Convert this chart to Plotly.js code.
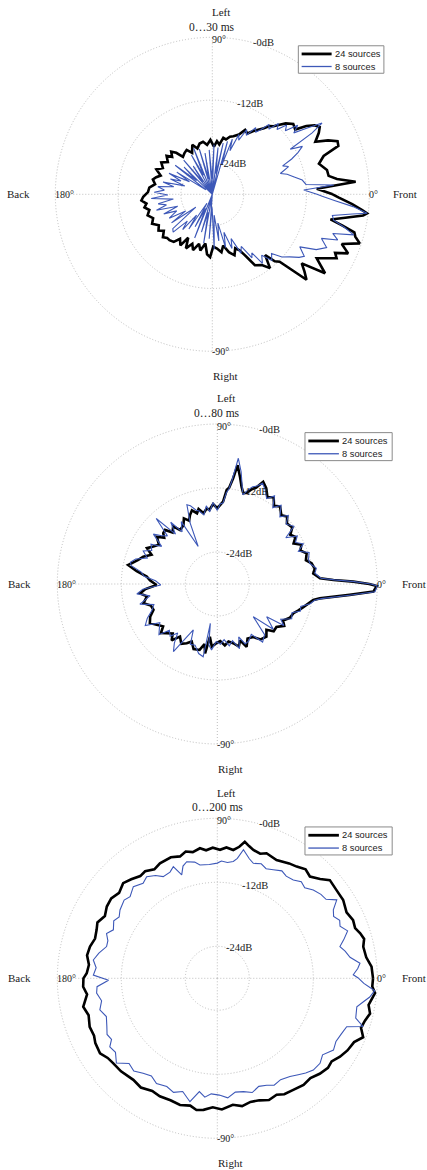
<!DOCTYPE html>
<html>
<head>
<meta charset="utf-8">
<script src="https://cdn.plot.ly/plotly-3.0.1.min.js"></script>
<style>
  html, body { margin: 0; padding: 0; background: #fff; }
  #plot { width: 427px; height: 1170px; }
</style>
</head>
<body>
<div id="plot"></div>
<script>
// Directional energy (dB re. maximum) for three time windows,
// comparing a 24-source and an 8-source reproduction setup.
// Angles in degrees: 0 = front, 90 = left, 180 = back, 270 = right.

const windowTitles = ['0…30 ms', '0…80 ms', '0…200 ms'];
const seriesNames = ['24 sources', '8 sources'];
const radialTicks = [-24, -12, 0];
const radialTickText = ['-24dB', '-12dB', '-0dB'];
const angleTicks = [0, 90, 180, 270];
const angleTickText = ['0°', '90°', '180°', '-90°'];
const directionText = ['Front', 'Left', 'Back', 'Right'];

// ---- 0...30 ms ----
const theta30_24 = [0,3,5,7,9,12,16,19,21,23,25,27,30,32,34,36,38,41,44,46,48,50,52,55,57,60,63,66,70,73,76,79,82,85,88,92,96,100,104,108,112,116,120,124,128,131,134,137,140,144,148,152,156,160,163,166,170,174,178,182,185,188,191,194,198,202,206,210,214,217,221,224,227,231,234,238,241,244,248,251,255,258,262,265,268,271,275,279,282,286,290,293,296,298,301,305,308,311,313,315,317.8,320,322.3,325,328.5,331,332.8,334.5,336.5,339,341.6,343.5,345,346.5,348,350,352,353,354,356,358.5,360];
const r30_24 = [-7,-10,-2.5,-6,-7.5,-7.6,-8.8,-7.5,-4.2,-4,-5.6,-7.9,-6.5,-5.8,-6.4,-7.8,-9.9,-9.5,-10.5,-11.5,-12.5,-13,-14,-15,-15.6,-16.6,-16.2,-17.5,-18.2,-18.5,-19.2,-19,-20.4,-19.8,-20.9,-19.6,-20.5,-19.8,-20,-20.8,-19.8,-21.2,-20.2,-20.5,-20.9,-19.5,-18.7,-19.5,-18.6,-19.5,-18.5,-19.3,-18.3,-19.5,-18.8,-18.3,-18.9,-17.9,-17.7,-16.8,-16.4,-17.3,-16.8,-17.6,-17,-17.8,-17.2,-18.2,-17.6,-18.4,-17.5,-18,-18,-18.3,-19.5,-18.5,-20.5,-18.5,-19.8,-18.7,-20.2,-19,-20.5,-18.5,-18,-20,-19.6,-18.8,-20,-18.5,-17.6,-18.8,-18.1,-16.9,-14.2,-13.5,-12.1,-14.6,-12.5,-11.8,-5.7,-7,-8.4,-3.7,-6.6,-4.8,-3.3,-4,-1.7,-3.5,-0.3,-1.5,-1.9,-4.4,-6.9,-4.2,-0.9,-0.2,-1.2,-3.2,-5.8,-7];

const theta30_8 = [0,2.7,4.4,6,9,12,15,17,20,22,24,26,28,30,31.6,33,35,37,39,41,43,45,47,49,51,53,55,57,60,62,64,66,68,70,72,74,76,78,80,83,86,88,91,94,97,100,103,106,109,112,115,118,121,124,127,130,133,136,139,142,145,148,151,154,157,160,163,166,169,172,175,178,181,184,187,190,193,196,199,202,205,209,212,215,218,221,224,227,230,233,236,239,242,245,248,251,254,257,260,263,266,269,272,275,278,281,284,287,290,293,296,299,302,304,306,309,312,315,318,321,324,326,329,332,335,338,340,342,344,346,348,350,352,353,355,357,359,360];
const r30_8 = [-10,-12.5,-6.7,-12,-12.6,-14,-15.2,-16.4,-14.5,-15.5,-13.4,-11.8,-10.5,-12.8,-7.6,-5,-8,-10.5,-9,-11.5,-10.6,-12.5,-11.5,-13.5,-12.8,-14.5,-15.5,-14.8,-17,-16,-18.5,-17.5,-21,-18.8,-24,-19.5,-30,-20,-26,-21,-30,-20.5,-27,-21.5,-30,-22,-27,-21,-30,-20.5,-26,-21.5,-30,-23.5,-27,-21.5,-30,-22.5,-26,-21,-28.5,-22,-25,-20.8,-23.5,-21.5,-24.5,-20.3,-22.5,-19.5,-20.8,-18.9,-21.5,-18.3,-22.5,-19.5,-21,-18.9,-23,-20,-22.5,-20.6,-24,-20.5,-26,-20,-19.6,-23,-21.2,-25,-22,-28,-23,-27,-21,-30,-22.5,-26.5,-20.5,-30,-21.5,-27.5,-19.5,-26,-21,-24.4,-19.5,-22.4,-19,-20.8,-17.5,-18.6,-15.7,-16.5,-13.7,-15,-13,-14,-12.1,-11,-9.5,-8.8,-10.5,-7.5,-5.9,-7.5,-4.5,-5.8,-1.9,-4,-6.3,-6.7,-3,-0.2,-3,-6.5,-9,-10];

// ---- 0...80 ms ----
const theta80_24 = [0,1,2,3.2,6.3,9,12.4,15,18.9,22,25,28,31,34,37,41,44,47,51,54,57,60,63,65.8,68,70,72,74,76,78,80.3,81.5,83,84.3,86,88,90,93,96,98,101,104,106,109,111.6,114,117,120,124.6,127.5,131,134,136.8,139,142,146,149.7,153,156,159.7,163,166,168,171,174,177,181,184,187,190,194.6,198,202,206,210,214,218,221,224,228,231,234.7,239,242.7,246,250,255,258,260,262,265,269,273,277,281,285,289,292,295,299,304,308,313,317,320,324,328,331,335,339,342,345,348,350.5,352,355.3,357.2,359.3,360];
const r80_24 = [-1.5,-4.5,-8.2,-10.7,-11.9,-11.5,-11.9,-12.8,-12.3,-13.2,-12.6,-13.8,-12.9,-13.5,-12.4,-12.7,-11.8,-12.4,-11.3,-11.9,-10.6,-11.2,-9.8,-9,-10.5,-11.1,-12,-12.3,-11.2,-9.5,-7.4,-10,-11.8,-12.3,-14.5,-15.2,-15.8,-15,-16,-15.7,-16.5,-15.5,-16.2,-15.4,-16.1,-17,-16.2,-17.3,-17.7,-16.4,-17.2,-15.9,-16.1,-16.8,-15.6,-16.8,-16.1,-15.2,-16.5,-15.2,-14.5,-13.6,-12.9,-14.7,-16.7,-17.4,-18.6,-16.5,-15.4,-16.6,-15.7,-16.9,-17.1,-16,-15.4,-16.3,-17.1,-16,-16.7,-17.5,-16.4,-17.9,-16.9,-17.5,-18.2,-17,-17.2,-18.5,-16.8,-20,-18.2,-18.9,-19.3,-18.4,-19,-18.5,-17.6,-18.6,-17,-18.3,-18,-16.8,-16.5,-17.4,-16.2,-16.3,-15.2,-15.9,-15,-14.7,-14,-13.3,-12.5,-11.75,-10.6,-5.1,-0.7,-0.1,-1.5];

const theta80_8 = [0,1,2,3.2,6.3,9,12.4,15,18.9,22,25,28,31,34,37,41,44,47,51,54,57,60,63,65.8,68,70,72,74,76,78,80.5,82,83,84.3,86,88,90,93,96,98,101,104,106,109,111,114,117,120,124,127,130,133,136,139,142,146,149,153,156,159.7,163,166,168,171,174,177,181,184,187,190,194.6,198,202,206,210,214,218,221,224,228,231,234,237,240,242.4,246,250,255,259,260,262,265,269,273,277,281,285,289,292,295,299,304,308,313,317.8,321,326.5,328,331,335,339,342,345,348,350.5,352,355.3,357.2,359.3,360];
const r80_8 = [-1.2,-4.3,-8,-10.5,-11.6,-11.2,-12.2,-12.3,-11.8,-13.6,-12.2,-13.4,-12.5,-14.5,-12,-12.9,-11.5,-12.8,-11,-12.3,-10.3,-11.5,-10.2,-9.3,-10.2,-10.6,-11.5,-12.6,-10.8,-8.5,-6.1,-10.5,-12,-12.8,-14.8,-15,-16.2,-14.7,-16.4,-15.2,-16.8,-15.9,-15.6,-14.5,-14.1,-17.5,-22.1,-16.5,-18.2,-15.5,-17.8,-13.2,-17,-16.2,-14.8,-17.4,-15.5,-16.2,-14.8,-16,-14,-13.2,-13.5,-15.5,-16.2,-18.4,-19.4,-16,-14.8,-17.2,-15,-17.5,-16.8,-15.4,-14.4,-17,-16.2,-15.5,-17.5,-16.8,-18.2,-16.3,-14.9,-18.5,-20.3,-17.6,-17.8,-16.5,-16.1,-22.5,-18.5,-17.6,-19.2,-18.7,-19.5,-18.2,-19,-17.2,-19.3,-17.6,-17.8,-18.6,-16.2,-17,-20.9,-16.5,-18.9,-15.3,-16.4,-14.6,-15,-13.6,-13.8,-12.2,-11.5,-10.3,-4.8,-0.4,0,-1.2];

// ---- 0...200 ms ----
const theta200_24 = [0,4.3,8,12.2,15,17.5,20,23.2,27,31.9,36.5,41.1,44,47.7,51,54.6,58,63.4,68.5,71,74.3,76.5,78.6,80.5,82.9,86,88.8,92,95,97.6,101,104,107,111,116.5,120,124,127,131,134.7,139,143,147,151,155,158,162,166,170,174,177.8,180,183.6,187,192,196,200.8,205,208,212.6,216,219,224,230.4,235,240,244,249,253.6,258,261,264,268,272,277,281,285,289,293,297,300,304,309,313,317,321,324,327.4,331,335,338,341,344,347,350,354.6,357,360];
const r200_24 = [-0.8,-1,-1.8,-2,-1.5,-1.9,-2.5,-2.3,-2.8,-2.2,-2.2,-2,-3.2,-4.2,-3.7,-4.3,-4.6,-5.2,-4.8,-5.3,-5,-4.5,-3.9,-5,-5.75,-5.4,-5.9,-5.5,-5.9,-5.4,-5.9,-5.5,-6.1,-5.7,-5.9,-6.4,-5.8,-6,-5.4,-4.9,-5.6,-5.1,-5.3,-5.9,-5.2,-5.6,-5.9,-5.4,-5.2,-5.8,-5.5,-4.9,-4.8,-5.4,-4.3,-4.9,-4.4,-4.5,-4.1,-3.9,-4.6,-4.8,-4.9,-5.3,-5,-5.6,-5.4,-5.5,-5.25,-5.6,-5,-5.2,-5.8,-5.4,-6.1,-5.6,-6,-5.8,-5.2,-5.5,-4.9,-4.7,-4.3,-4.4,-3.75,-3.3,-3.5,-2.7,-2.1,-1.7,-0.5,-1.5,-1.2,-0.6,-1.2,-0.3,-0.9,-0.8];

const theta200_8 = [0,1.5,4,6,9,12,14.5,17,20,23,25.4,28,30.5,33.3,36,39,42.6,46,49,52.3,56,59,62.7,66,69,72.6,75,78.5,80.5,82.2,85,88,90,94,98.7,101,104.7,107,109,111.5,114,118,121,124.8,128,132.5,136.9,140,144.9,148,151,155,158,161,164,168,171.6,175,178.5,181,184,187,191,195,199,203.6,207,210,212.5,216,220,224,228,232,236,240,245,249,253,257.5,261,264,267,271,275,279,283,287,291,294.8,298,302,306.5,310,313,316.3,320.4,324,328.3,332,336,339.5,341.7,344,348.5,351,353,355.5,358,360];
const r200_8 = [-3.5,-4.5,-3.6,-3.1,-4.8,-5.5,-6.25,-5.2,-4,-5,-4.6,-5.3,-4.75,-3.2,-4.8,-5,-5.55,-6.4,-6,-6.7,-6.9,-6.5,-7.1,-7.5,-7,-7.4,-6.8,-5.4,-7.2,-7.9,-8.2,-8,-8.4,-8.6,-8.5,-7.8,-7.4,-8,-9.5,-7.5,-8.2,-8.4,-7.5,-6.8,-7.4,-6.7,-7.6,-7.2,-7.7,-8.3,-7.8,-8.5,-7.6,-8.3,-8.4,-7.3,-6.5,-7.2,-6.75,-9.6,-7.4,-7.2,-7.9,-7.2,-8,-7.4,-6.8,-7.1,-6.1,-6.4,-5.3,-7,-6.6,-7.4,-7.9,-7.2,-7.6,-7.1,-7.8,-6.3,-8.5,-7.6,-8.3,-8.1,-7.5,-8.4,-8.2,-7.6,-8.3,-7.9,-7.3,-7.6,-7.1,-6.4,-5.7,-5.1,-5,-5.6,-4.4,-4.8,-4.5,-4.1,-1.2,-3,-3.3,-2.2,-1.2,-0.4,-2.5,-3.5];

const thetaSets = [[theta30_24, theta30_8], [theta80_24, theta80_8], [theta200_24, theta200_8]];
const rSets = [[r30_24, r30_8], [r80_24, r80_8], [r200_24, r200_8]];

// ---- page geometry (pixels); R is the radius of the 0 dB circle ----
const W = 427, H = 1170;
const panels = [
  { cx: 212.3, cy: 194.3, R: 157 },
  { cx: 217.3, cy: 584.0, R: 160 },
  { cx: 217.3, cy: 978.3, R: 160 }
];
// a little headroom above 0 dB so the 0 dB ring is drawn as a grid circle
const rMin = -30, rMax = 0.4;
const lineStyles = [
  { color: '#000000', width: 2.6 },
  { color: '#3d58b8', width: 1.1 }
];
const serif = 'Liberation Serif, Times New Roman, serif';
const sans = 'Liberation Sans, Arial, sans-serif';
const gridColor = '#bdbdbd';
const dotted = '1px,2px';

const px = x => x / W;
const py = y => 1 - y / H;

const data = [];
const layout = {
  width: W, height: H,
  margin: { l: 0, r: 0, t: 0, b: 0 },
  paper_bgcolor: '#ffffff',
  showlegend: false,
  annotations: [],
  shapes: []
};

panels.forEach((p, i) => {
  const key = i === 0 ? 'polar' : 'polar' + (i + 1);
  const Rd = p.R * (rMax - rMin) / (0 - rMin);

  layout[key] = {
    domain: {
      x: [px(p.cx - Rd), px(p.cx + Rd)],
      y: [py(p.cy + Rd), py(p.cy - Rd)]
    },
    bgcolor: '#ffffff',
    radialaxis: {
      range: [rMin, rMax],
      tickvals: radialTicks,
      showticklabels: false,
      ticks: '',
      showline: false,
      gridcolor: gridColor,
      gridwidth: 1,
      griddash: dotted,
      angle: 75
    },
    angularaxis: {
      tickvals: angleTicks,
      showticklabels: false,
      ticks: '',
      showline: false,
      rotation: 0,
      direction: 'counterclockwise',
      gridcolor: gridColor,
      gridwidth: 1,
      griddash: dotted
    }
  };

  seriesNames.forEach((name, s) => {
    data.push({
      type: 'scatterpolar',
      mode: 'lines',
      name: name,
      theta: thetaSets[i][s],
      r: rSets[i][s],
      subplot: key,
      line: { color: lineStyles[s].color, width: lineStyles[s].width, shape: 'linear' },
      hoverinfo: 'skip'
    });
  });

  const txt = (text, x, y, xanchor, size, family) => ({
    text: text, x: px(x), y: py(y), xref: 'paper', yref: 'paper',
    xanchor: xanchor, yanchor: 'middle', showarrow: false, borderpad: 0,
    font: { family: family || serif, size: size || 11, color: '#1a1a1a' }
  });
  const A = layout.annotations;
  const S = layout.shapes;

  // time window heading and direction names
  A.push(txt(windowTitles[i], p.cx, p.cy - 1.068 * p.R, 'center', 11.5));
  A.push(txt(directionText[1], p.cx + 0.057 * p.R, p.cy - 1.16 * p.R, 'center'));
  A.push(txt(directionText[3], p.cx + 0.078 * p.R, p.cy + 1.157 * p.R, 'center'));
  A.push(txt(directionText[2], p.cx - 1.237 * p.R, p.cy, 'center'));
  A.push(txt(directionText[0], p.cx + 1.23 * p.R, p.cy, 'center'));

  // angle labels, left-aligned at the rim
  angleTicks.forEach((a, k) => {
    const rad = a * Math.PI / 180;
    const dy = a === 90 ? 2.5 : 0;
    A.push(txt(angleTickText[k], p.cx + p.R * Math.cos(rad) - 1, p.cy - p.R * Math.sin(rad) + dy, 'left', 10));
  });

  // level labels along the 75 degree direction
  radialTicks.forEach((v, k) => {
    const rp = (v - rMin) / (0 - rMin) * p.R;
    const rad = 75 * Math.PI / 180;
    A.push(txt(radialTickText[k], p.cx + rp * Math.cos(rad) - 1, p.cy - rp * Math.sin(rad), 'left', 10.5));
  });

  // boxed key in the upper right of each panel
  S.push({
    type: 'rect', xref: 'paper', yref: 'paper',
    x0: px(p.cx + 0.548 * p.R), x1: px(p.cx + 1.093 * p.R),
    y0: py(p.cy - 0.946 * p.R), y1: py(p.cy - 0.771 * p.R),
    line: { color: '#8a8a8a', width: 1 }, fillcolor: '#ffffff', layer: 'above'
  });
  const rowY = [p.cy - 0.894 * p.R, p.cy - 0.814 * p.R];
  seriesNames.forEach((name, s) => {
    S.push({
      type: 'line', xref: 'paper', yref: 'paper',
      x0: px(p.cx + 0.569 * p.R), x1: px(p.cx + 0.760 * p.R),
      y0: py(rowY[s]), y1: py(rowY[s]),
      line: { color: lineStyles[s].color, width: lineStyles[s].width + 0.2 }, layer: 'above'
    });
    A.push(txt(name, p.cx + 0.775 * p.R, rowY[s], 'left', 9.3, sans));
  });
});

Plotly.newPlot('plot', data, layout, { staticPlot: true, displayModeBar: false });
</script>
</body>
</html>
